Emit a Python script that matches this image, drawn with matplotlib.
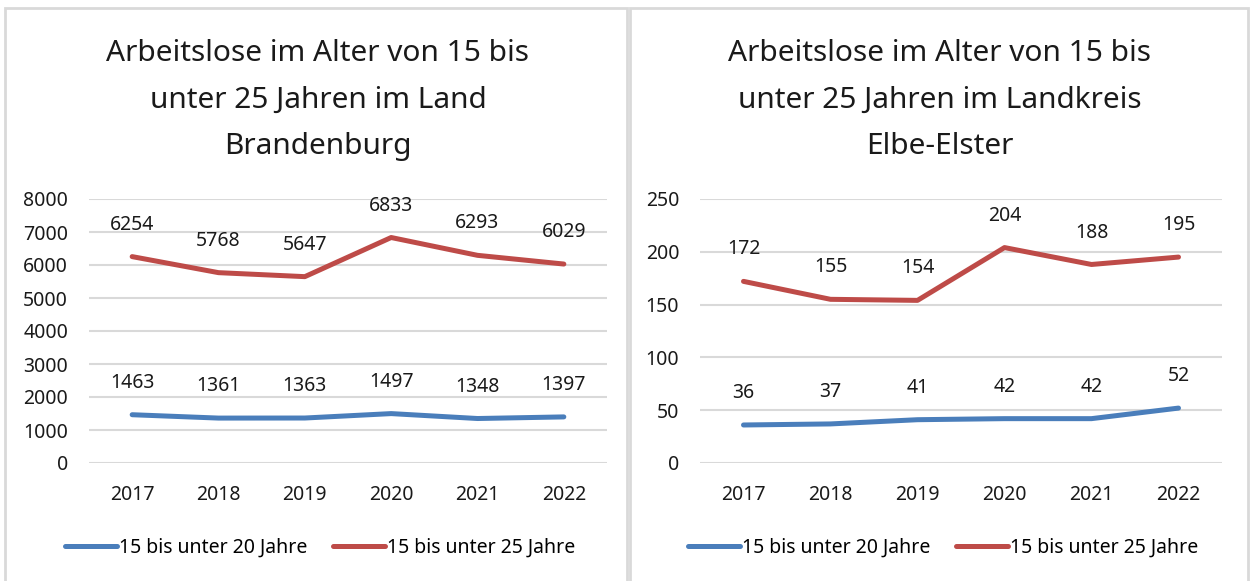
import matplotlib
matplotlib.use("Agg")
import matplotlib.pyplot as plt
from matplotlib.patches import Rectangle

plt.rcParams['font.family'] = ['Noto Sans', 'DejaVu Sans']

# Daten
jahre = ["2017", "2018", "2019", "2020", "2021", "2022"]
bb_u20 = [1463, 1361, 1363, 1497, 1348, 1397]
bb_u25 = [6254, 5768, 5647, 6833, 6293, 6029]
ee_u20 = [36, 37, 41, 42, 42, 52]
ee_u25 = [172, 155, 154, 204, 188, 195]

titel_links = "Arbeitslose im Alter von 15 bis\nunter 25 Jahren im Land\nBrandenburg"
titel_rechts = "Arbeitslose im Alter von 15 bis\nunter 25 Jahren im Landkreis\nElbe-Elster"
label_u20 = "15 bis unter 20 Jahre"
label_u25 = "15 bis unter 25 Jahre"

BLAU = '#4a7ebb'
ROT = '#be4b48'
GRID = '#d9d9d9'
TXT = '#1a1a1a'

fig = plt.figure(figsize=(12.5, 5.81), dpi=100)
fig.patch.set_facecolor('white')

# Rahmen der beiden Diagramme
for x0, w in [(5 / 1250, 622 / 1250), (630 / 1250, 618 / 1250)]:
    fig.patches.append(Rectangle((x0, -0.05), w, 1.05 - 8 / 581, transform=fig.transFigure,
                                 fill=False, edgecolor=GRID, linewidth=2.0))


def panel(rect, u20, u25, ymax, ystep, titel, title_x, legend_x):
    ax = fig.add_axes(rect)
    x = list(range(len(jahre)))
    l1, = ax.plot(x, u20, color=BLAU, linewidth=3.6, solid_capstyle='round', label=label_u20, zorder=3)
    l2, = ax.plot(x, u25, color=ROT, linewidth=3.6, solid_capstyle='round', label=label_u25, zorder=3)
    for xi, v in zip(x, u20):
        ax.annotate(str(v), (xi, v), xytext=(0, 23), textcoords='offset points',
                    ha='center', va='center', fontsize=14, color=TXT)
    for xi, v in zip(x, u25):
        ax.annotate(str(v), (xi, v), xytext=(0, 23), textcoords='offset points',
                    ha='center', va='center', fontsize=14, color=TXT)
    ax.set_xlim(-0.5, len(jahre) - 0.5)
    ax.set_ylim(0, ymax)
    ax.set_yticks(range(0, ymax + 1, ystep))
    ax.set_xticks(x)
    ax.set_xticklabels(jahre)
    ax.tick_params(axis='y', length=0, pad=15, labelsize=14, labelcolor=TXT)
    ax.tick_params(axis='x', length=0, pad=16, labelsize=14, labelcolor=TXT)
    for s in ax.spines.values():
        s.set_visible(False)
    ax.grid(axis='y', color=GRID, linewidth=1.5)
    ax.set_axisbelow(True)

    fig.text(title_x, 1 - 100 / 581, titel, ha='center', va='center', fontsize=21.5,
             linespacing=1.8, color=TXT)
    fig.legend(handles=[l1, l2], loc='center', bbox_to_anchor=(legend_x, 1 - 548 / 581),
               ncol=2, frameon=False, fontsize=14, handlelength=2.7, handletextpad=0.1,
               columnspacing=1.3)
    return ax


panel([89 / 1250, 1 - 463 / 581, 518 / 1250, 264 / 581], bb_u20, bb_u25, 8000, 1000,
      titel_links, 318 / 1250, 320 / 1250)
panel([700 / 1250, 1 - 463 / 581, 522 / 1250, 264 / 581], ee_u20, ee_u25, 250, 50,
      titel_rechts, 940 / 1250, 943 / 1250)

fig.savefig("out.png", dpi=100)
